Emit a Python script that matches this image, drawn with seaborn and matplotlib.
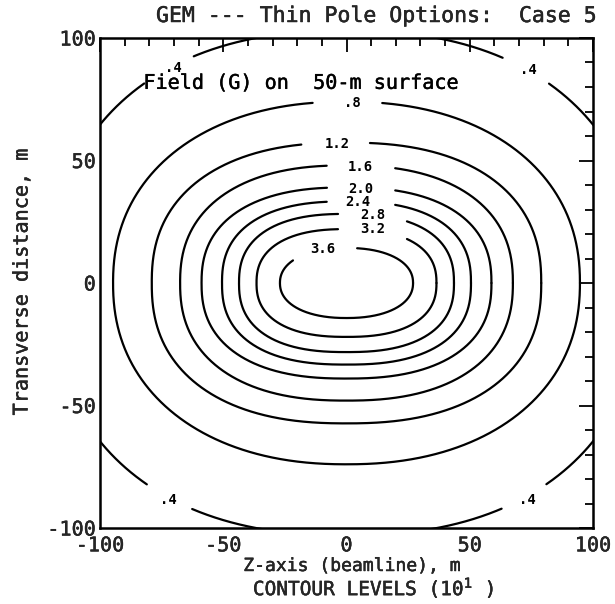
import numpy as np
import pandas as pd
import matplotlib
matplotlib.use("Agg")
import matplotlib.pyplot as plt
import matplotlib.patheffects as pe
import seaborn as sns
from matplotlib.ticker import MultipleLocator

# Contour levels of the field (units of 10 G) and the shape of each closed contour:
# half-extent along the beamline (z), half-extent transverse (x), and squareness exponent.
levels = [0.4, 0.8, 1.2, 1.6, 2.0, 2.4, 2.8, 3.2, 3.6]
half_z = [120.0, 94.7, 79.0, 67.5, 58.8, 50.5, 43.6, 36.5, 27.0]
half_x = [103.0, 74.0, 57.3, 48.0, 39.0, 33.3, 28.2, 22.0, 14.3]
squareness = [2.3, 2.2, 2.35, 2.35, 2.4, 2.45, 2.45, 2.4, 2.2]

# Inline contour labels: text, level, position, and the z-range of the break in the line.
label_text = [".4", ".4", ".4", ".4", ".8", "1.2", "1.6", "2.0", "2.4", "2.8", "3.2", "3.6"]
label_level = [0.4, 0.4, 0.4, 0.4, 0.8, 1.2, 1.6, 2.0, 2.4, 2.8, 3.2, 3.6]
label_z = [-70.4, 73.6, -72.4, 73.2, 2.2, -3.9, 5.5, 5.9, 4.7, 10.8, 10.8, -9.5]
label_x = [87.8, 87.0, -88.6, -88.6, 73.5, 56.7, 47.3, 38.3, 33.0, 27.7, 22.0, 13.9]
gap_lo = [-82.0, 63.5, -81.0, 63.0, -13.6, -18.3, -7.9, -7.9, -7.9, -3.4, -3.4, -21.7]
gap_hi = [-62.0, 82.0, -62.7, 81.0, 14.4, 9.5, 19.7, 19.7, 19.7, 24.5, 24.5, 4.3]

axis_ticks = [-100, -50, 0, 50, 100]


def contour_frame():
    rows = []
    piece = 0
    theta = np.linspace(0, 2 * np.pi, 3000)
    for lev, a, b, p in zip(levels, half_z, half_x, squareness):
        c, s = np.cos(theta), np.sin(theta)
        z = a * np.sign(c) * np.abs(c) ** (2.0 / p)
        x = b * np.sign(s) * np.abs(s) ** (2.0 / p)
        hidden = np.zeros_like(z, dtype=bool)
        for lv, lo, hi, ly in zip(label_level, gap_lo, gap_hi, label_x):
            if lv == lev:
                hidden |= (z >= lo) & (z <= hi) & (np.sign(x) == np.sign(ly))
        piece += 1
        prev_hidden = False
        for zi, xi, h in zip(z, x, hidden):
            if h:
                prev_hidden = True
                continue
            if prev_hidden:
                piece += 1
                prev_hidden = False
            rows.append((lev, piece, zi, xi))
    return pd.DataFrame(rows, columns=["level", "piece", "z", "x"])


df = contour_frame()

sns.set_style("white")
plt.rcParams["font.family"] = ["DejaVu Sans Mono"]
heavy = [pe.withStroke(linewidth=0.3, foreground="black")]

fig = plt.figure(figsize=(6.15, 6.04), dpi=100)
ax = fig.add_axes([100 / 615, 1 - 528 / 604, 493 / 615, 490 / 604])

sns.lineplot(data=df, x="z", y="x", units="piece", estimator=None, sort=False,
             color="black", linewidth=1.6, legend=False, ax=ax)

for txt, zc, xc in zip(label_text, label_z, label_x):
    ax.text(zc, xc, txt, ha="center", va="center", fontsize=10,
            fontweight="bold", color="black")

ax.text(-82.4, 81.5, "Field (G) on  50-m surface", ha="left", va="center",
        fontsize=14.5, color="black", path_effects=heavy)

ax.set_xlim(-100, 100)
ax.set_ylim(-100, 100)
ax.set_xticks(axis_ticks)
ax.set_yticks(axis_ticks)
ax.set_xticklabels([str(t) for t in axis_ticks])
ax.set_yticklabels([str(t) for t in axis_ticks])
ax.xaxis.set_minor_locator(MultipleLocator(10))
ax.yaxis.set_minor_locator(MultipleLocator(10))
ax.tick_params(which="both", direction="in", top=True, right=True, color="black")
ax.tick_params(which="major", length=10, width=1.3, labelsize=14.5)
ax.tick_params(which="minor", length=6, width=1.3)
ax.tick_params(axis="x", which="major", pad=6)
ax.tick_params(axis="y", which="major", pad=3)
for lbl in ax.get_xticklabels() + ax.get_yticklabels():
    lbl.set_path_effects(heavy)
ax.set_xlabel("")
ax.set_ylabel("")
for sp in ax.spines.values():
    sp.set_linewidth(1.8)
    sp.set_color("black")

fig.text(377 / 615, 1 - 16 / 604, "GEM --- Thin Pole Options:  Case 5",
         ha="center", va="center", fontsize=15.5, path_effects=heavy)
fig.text(22 / 615, 1 - 282 / 604, "Transverse distance, m", rotation=90,
         ha="center", va="center", fontsize=14.5, path_effects=heavy)
fig.text(352 / 615, 1 - 566 / 604, "Z-axis (beamline), m",
         ha="center", va="center", fontsize=13, path_effects=heavy)
fig.text(374 / 615, 1 - 588 / 604, "CONTOUR LEVELS (10$^{1}$ )",
         ha="center", va="center", fontsize=14, path_effects=heavy)

fig.savefig("out.png", dpi=100, facecolor="white")
